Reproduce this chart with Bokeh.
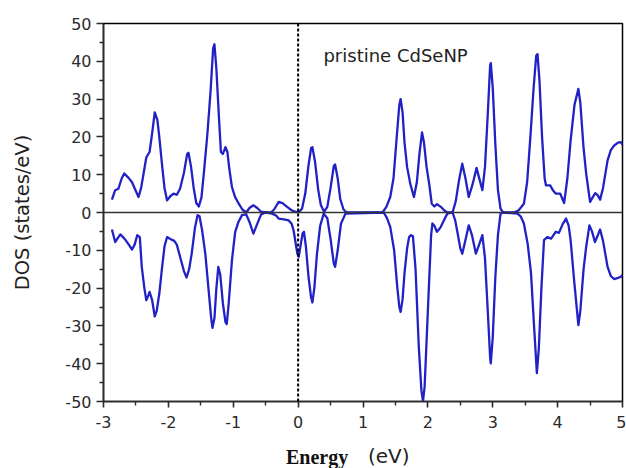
from bokeh.plotting import figure
from bokeh.models import Range1d, FixedTicker, Span, Label, Div
from bokeh.layouts import column
from bokeh.embed import file_html
from bokeh.resources import INLINE

# ---- data ----
up_x = [-2.87, -2.82, -2.77, -2.72, -2.68, -2.62, -2.56, -2.51, -2.46, -2.42, -2.38, -2.34, -2.29, -2.25,
        -2.21, -2.17, -2.14, -2.10, -2.06, -2.02, -1.97, -1.92, -1.87, -1.82, -1.76, -1.71, -1.69, -1.65,
        -1.61, -1.57, -1.53, -1.49, -1.45, -1.40, -1.35, -1.31, -1.29, -1.26, -1.22, -1.19, -1.16, -1.12,
        -1.09, -1.06, -1.02, -0.97, -0.92, -0.86, -0.80, -0.75, -0.69, -0.63, -0.57, -0.50, -0.42, -0.37,
        -0.30, -0.24, -0.17, -0.10, -0.03, 0.02, 0.06, 0.11, 0.16, 0.20, 0.22, 0.26, 0.31, 0.35, 0.40,
        0.45, 0.50, 0.55, 0.57, 0.61, 0.65, 0.70, 0.75, 1.30, 1.36, 1.42, 1.47, 1.52, 1.56, 1.58, 1.61,
        1.64, 1.68, 1.73, 1.785, 1.83, 1.87, 1.91, 1.94, 1.98, 2.02, 2.06, 2.10, 2.14, 2.20, 2.25, 2.30,
        2.38, 2.43, 2.48, 2.53, 2.58, 2.63, 2.69, 2.75, 2.80, 2.84, 2.88, 2.92, 2.96, 2.97, 3.00, 3.04,
        3.08, 3.12, 3.16, 3.33, 3.40, 3.48, 3.53, 3.58, 3.63, 3.67, 3.69, 3.72, 3.76, 3.80, 3.82, 3.885,
        3.93, 3.97, 4.04, 4.10, 4.15, 4.20, 4.26, 4.32, 4.35, 4.40, 4.44, 4.50, 4.54, 4.58, 4.62, 4.655,
        4.70, 4.77, 4.82, 4.87, 4.93, 4.975, 5.00]
up_y = [3.4, 5.9, 6.3, 9.0, 10.3, 9.3, 8.0, 6.0, 4.1, 6.5, 10.5, 14.6, 16.0, 21.0,
        26.5, 24.5, 20.0, 13.0, 6.5, 3.2, 4.3, 5.0, 4.7, 6.3, 10.5, 15.5, 15.8, 12.0,
        6.5, 2.5, 1.6, 4.0, 11.0, 20.5, 32.0, 43.5, 44.5, 38.0, 25.0, 16.0, 15.5, 17.3,
        16.0, 11.5, 6.7, 4.0, 2.5, 0.8, 0.0, 1.2, 1.9, 1.2, 0.2, 0.0, 0.0, 0.8,
        2.8, 2.5, 1.5, 0.6, 0.1, 0.3, 1.0, 5.0, 12.5, 17.0, 17.3, 13.5, 6.0, 2.0, 0.2,
        1.5, 6.5, 12.3, 12.7, 9.0, 3.5, 0.8, 0.0, 0.0, 1.5, 4.1, 9.0, 20.0, 28.5, 30.0, 26.5,
        18.5, 12.0, 7.5, 4.1, 8.0, 15.5, 21.2, 18.5, 12.0, 7.6, 2.3, 1.6, 2.2, 1.5, 0.6, 0.0,
        0.0, 3.0, 8.5, 12.9, 9.0, 4.1, 7.5, 11.8, 8.5, 5.9, 12.0, 25.0, 39.0, 39.5, 33.0, 18.0,
        6.0, 1.0, 0.0, 0.0, 0.6, 2.3, 8.0, 20.0, 33.0, 41.5, 41.9, 35.0, 20.0, 9.0, 7.2, 7.2,
        5.8, 5.0, 5.0, 2.5, 9.0, 19.0, 28.5, 32.7, 29.0, 17.0, 10.3, 2.8, 4.0, 5.1, 4.5, 3.4,
        6.5, 13.8, 16.5, 17.7, 18.5, 18.6, 18.0]

dn_x = [-2.87, -2.82, -2.78, -2.74, -2.70, -2.66, -2.61, -2.56, -2.52, -2.48, -2.44, -2.41, -2.37, -2.34,
        -2.31, -2.29, -2.25, -2.21, -2.18, -2.14, -2.10, -2.06, -2.02, -1.97, -1.91, -1.87, -1.82, -1.76,
        -1.72, -1.68, -1.64, -1.59, -1.55, -1.52, -1.48, -1.43, -1.38, -1.34, -1.32, -1.29, -1.26, -1.23,
        -1.20, -1.16, -1.12, -1.10, -1.07, -1.02, -0.97, -0.92, -0.865, -0.80, -0.75, -0.69, -0.63, -0.57,
        -0.50, -0.40, -0.34, -0.30, -0.22, -0.145, -0.10, -0.07, -0.03, -0.01, 0.01, 0.04, 0.07, 0.09,
        0.12, 0.16, 0.20, 0.22, 0.25, 0.29, 0.34, 0.395, 0.45, 0.50, 0.55, 0.57, 0.61, 0.66, 0.73,
        1.32, 1.37, 1.42, 1.48, 1.53, 1.56, 1.58, 1.61, 1.64, 1.68, 1.71, 1.74, 1.77, 1.81, 1.86,
        1.90, 1.925, 1.95, 1.99, 2.02, 2.05, 2.07, 2.10, 2.14, 2.17, 2.20, 2.25, 2.30, 2.38, 2.42,
        2.46, 2.50, 2.53, 2.57, 2.63, 2.68, 2.74, 2.79, 2.84, 2.88, 2.92, 2.96, 2.97, 3.00, 3.04,
        3.08, 3.12, 3.16, 3.38, 3.43, 3.48, 3.54, 3.59, 3.64, 3.68, 3.71, 3.75, 3.79, 3.84, 3.90,
        3.97, 4.02, 4.08, 4.13, 4.17, 4.20, 4.26, 4.32, 4.35, 4.40, 4.44, 4.49, 4.53, 4.575, 4.62,
        4.655, 4.70, 4.77, 4.82, 4.87, 4.93, 4.975, 5.00]
dn_y = [-4.5, -7.8, -6.8, -5.8, -6.5, -7.3, -8.5, -9.8, -8.5, -6.0, -6.5, -14.4, -20.0, -23.2,
        -22.0, -21.0, -23.2, -27.5, -26.0, -21.5, -15.0, -9.0, -6.5, -7.0, -7.5, -8.5, -11.7, -15.5,
        -17.2, -15.0, -10.8, -4.0, -0.7, -1.0, -4.7, -11.0, -20.5, -28.0, -30.5, -28.0, -20.0, -14.4,
        -16.5, -24.0, -29.0, -29.5, -24.0, -12.6, -5.1, -2.5, -0.7, -0.5, -2.5, -5.6, -3.0, -0.5,
        0.0, -0.3, -0.8, -1.6, -1.8, -2.1, -3.0, -4.7, -9.0, -11.0, -11.7, -8.5, -5.5, -5.1,
        -9.0, -17.0, -22.5, -23.8, -20.0, -11.0, -3.5, -0.3, -1.5, -7.0, -13.5, -14.4, -10.0, -3.0, -0.3,
        0.0, -1.5, -3.8, -10.0, -20.0, -25.0, -26.3, -23.0, -16.0, -9.5, -6.5, -6.0, -6.3, -15.0, -35.5,
        -47.0, -50.0, -46.0, -30.0, -17.9, -6.0, -2.9, -3.5, -5.1, -4.5, -3.8, -2.0, -0.3, 0.0, -2.0,
        -5.6, -9.5, -10.9, -8.0, -3.4, -6.0, -10.9, -8.5, -6.0, -12.0, -25.0, -38.5, -39.9, -33.0, -17.0,
        -6.0, -0.3, 0.0, -0.3, -1.0, -2.9, -8.5, -16.1, -31.0, -42.5, -36.0, -20.0, -7.3, -6.5, -6.9,
        -5.1, -5.4, -3.0, -1.6, -3.5, -7.3, -19.0, -29.8, -26.0, -15.0, -9.1, -3.4, -5.0, -7.8, -6.0,
        -4.5, -7.5, -14.4, -16.8, -17.6, -17.3, -17.0, -16.5]

x_ticks = [-3, -2, -1, 0, 1, 2, 3, 4, 5]
x_minor = [-2.5, -1.5, -0.5, 0.5, 1.5, 2.5, 3.5, 4.5]
y_ticks = [-50, -40, -30, -20, -10, 0, 10, 20, 30, 40, 50]
y_minor = [-45, -35, -25, -15, -5, 5, 15, 25, 35, 45]

title_text = "pristine CdSeNP"
x_label_bold = "Energy"
x_label_unit = "(eV)"
y_label = "DOS (states/eV)"

LINE = "#2121c6"
AX = "#2a2a2a"

p = figure(width=626, height=440, x_range=Range1d(-3, 5), y_range=Range1d(-50, 50),
           output_backend="svg", toolbar_location=None,
           min_border_left=103, min_border_right=4, min_border_top=23, min_border_bottom=39)
p.background_fill_color = "white"
p.border_fill_color = "white"
p.outline_line_color = "black"
p.outline_line_width = 1.5
p.grid.visible = False

p.xaxis.ticker = FixedTicker(ticks=x_ticks, minor_ticks=x_minor)
p.yaxis.ticker = FixedTicker(ticks=y_ticks, minor_ticks=y_minor)
p.xaxis.major_label_overrides = {t: str(t) for t in x_ticks}
p.yaxis.major_label_overrides = {t: str(t) for t in y_ticks}
for ax in (p.xaxis, p.yaxis):
    ax.axis_line_color = AX
    ax.axis_line_width = 1.6
    ax.major_tick_line_color = AX
    ax.minor_tick_line_color = AX
    ax.major_tick_line_width = 1.6
    ax.minor_tick_line_width = 1.4
    ax.major_tick_in = 0
    ax.minor_tick_in = 0
    ax.major_label_text_font = "DejaVu Sans"
    ax.major_label_text_font_size = "16px"
    ax.major_label_text_color = "#2a2a2a"
p.xaxis.major_tick_out = 6
p.xaxis.minor_tick_out = 4
p.yaxis.major_tick_out = 7
p.yaxis.minor_tick_out = 4
p.xaxis.major_label_standoff = 8
p.yaxis.major_label_standoff = 5

p.yaxis.axis_label = y_label
p.yaxis.axis_label_text_font = "DejaVu Sans"
p.yaxis.axis_label_text_font_size = "19.5px"
p.yaxis.axis_label_text_font_style = "normal"
p.yaxis.axis_label_text_color = "#222222"
p.yaxis.axis_label_standoff = 28

p.add_layout(Span(location=0, dimension="width", line_color="#333333", line_width=1.3))
p.add_layout(Span(location=0, dimension="height", line_color="black", line_width=2, line_dash="3 2"))

p.line(up_x, up_y, line_color=LINE, line_width=2.3, line_join="round")
p.line(dn_x, dn_y, line_color=LINE, line_width=2.3, line_join="round")

p.add_layout(Label(x=0.39, y=41.5, text=title_text, text_font="DejaVu Sans", text_font_size="18px",
                   text_color="#222222", text_baseline="middle", text_align="left"))

xlabel = Div(
    text=(
        '<div style="position:relative;width:626px;height:28px;">'
        '<span style="position:absolute;left:286px;top:3px;font-family:\'Liberation Serif\';'
        'font-weight:bold;font-size:20px;color:#111111;white-space:nowrap;">' + x_label_bold + '</span>'
        '<span style="position:absolute;left:368px;top:2px;font-family:\'DejaVu Sans\';'
        'font-size:20px;color:#222222;white-space:nowrap;">' + x_label_unit + '</span>'
        '</div>'
    ),
    width=626, height=28, margin=0,
)

layout = column(p, xlabel, spacing=0)
open("out.html", "w").write(file_html(layout, INLINE))
